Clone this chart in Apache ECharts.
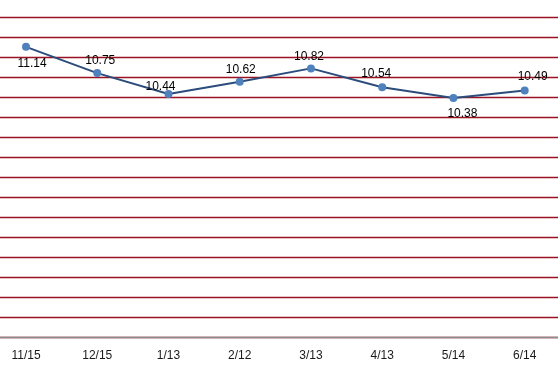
<!DOCTYPE html>
<html><head><meta charset="utf-8">
<script src="https://cdn.jsdelivr.net/npm/echarts@6/dist/echarts.min.js"></script>
<style>html,body{margin:0;padding:0;background:#fff}#c{width:558px;height:375px}</style>
</head><body><div id="c"></div>
<script>
var categories = ['11/15','12/15','1/13','2/12','3/13','4/13','5/14','6/14'];
var values = [11.14, 10.75, 10.44, 10.62, 10.82, 10.54, 10.38, 10.49];
// label placement (layout config, not data)
var labelOffsets = [[6,17],[3,-12],[-8,-7],[1,-12],[-2,-12],[-6,-14],[9,16],[8,-14]];

var yInterval = 0.297;
var yMin = 23 * yInterval;
var yMax = 39 * yInterval;
var font = 'Liberation Sans';

var chart = echarts.init(document.getElementById('c'));
chart.setOption({
  animation: false,
  grid: [
    {left: 0, right: 0, top: 17, bottom: 38},
    {left: 26, right: 33.3, top: 17, bottom: 38}
  ],
  xAxis: [
    {type: 'category', gridIndex: 0, z: 4, data: [''], axisLine: {show: true, lineStyle: {color: '#8c8c8c', width: 1.3}},
     axisTick: {show: false}, axisLabel: {show: false}, splitLine: {show: false}},
    {type: 'category', gridIndex: 1, data: categories, boundaryGap: false,
     axisLine: {show: false}, axisTick: {show: false}, splitLine: {show: false},
     axisLabel: {color: '#1a1a1a', fontFamily: font, fontSize: 12, margin: 13}}
  ],
  yAxis: [
    {type: 'value', gridIndex: 0, min: yMin, max: yMax, interval: yInterval,
     axisLine: {show: false}, axisTick: {show: false}, axisLabel: {show: false},
     splitLine: {show: true, lineStyle: {color: '#9a1222', width: 1.3}}},
    {type: 'value', gridIndex: 1, min: yMin, max: yMax, interval: yInterval,
     axisLine: {show: false}, axisTick: {show: false}, axisLabel: {show: false},
     splitLine: {show: false}}
  ],
  series: [{
    type: 'line', xAxisIndex: 1, yAxisIndex: 1,
    data: values.map(function (v, i) {
      return {value: v, label: {offset: labelOffsets[i]}};
    }),
    symbol: 'circle', symbolSize: 8,
    lineStyle: {color: '#2c4d7c', width: 2},
    itemStyle: {color: '#4f81bd'},
    label: {show: true, position: 'inside', color: '#000', fontFamily: font, fontSize: 12,
      formatter: function (p) { return p.value.toFixed(2); }},
    z: 5
  }]
});
</script></body></html>
